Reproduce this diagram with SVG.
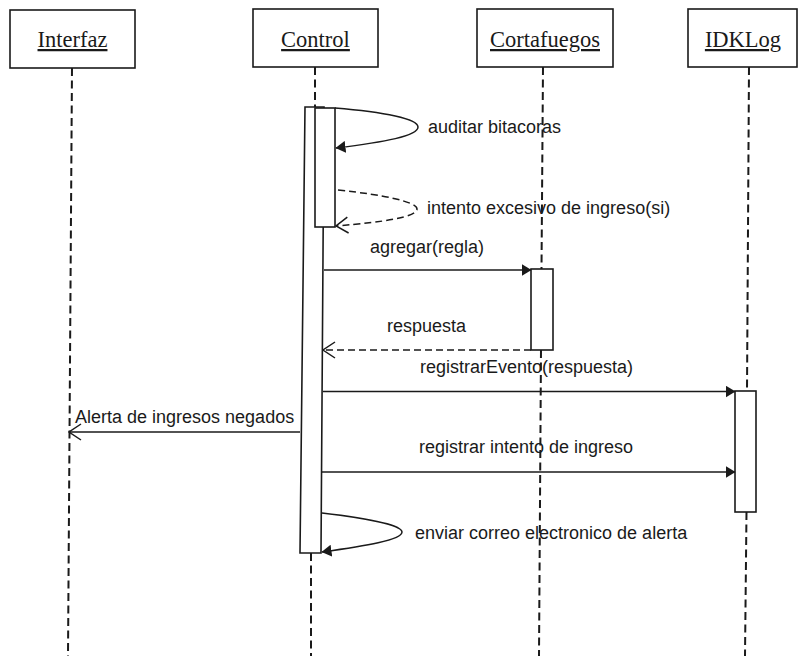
<svg xmlns="http://www.w3.org/2000/svg" width="799" height="656" viewBox="0 0 799 656">
  <style>
    .box { fill: #fff; stroke: #1a1a1a; stroke-width: 1.6; }
    .head { font-family: "Liberation Serif", "Times New Roman", serif; font-size: 22.5px; fill: #1a1a1a; text-anchor: middle; text-decoration: underline; }
    .life { fill: none; stroke: #1a1a1a; stroke-width: 2; stroke-dasharray: 8 4.5; }
    .act { fill: #fff; stroke: #1a1a1a; stroke-width: 1.6; }
    .msg { fill: none; stroke: #1a1a1a; stroke-width: 1.5; }
    .ret { fill: none; stroke: #1a1a1a; stroke-width: 1.5; stroke-dasharray: 7 4; }
    .lbl { font-family: "Liberation Sans", Arial, sans-serif; font-size: 18px; fill: #1a1a1a; }
  </style>
  <defs>
    <!-- filled head for call messages -->
    <marker id="solid" viewBox="0 0 10 12" refX="9.5" refY="6" markerWidth="10" markerHeight="12" markerUnits="userSpaceOnUse" orient="auto">
      <path d="M0,0 L10,6 L0,12 z" fill="#1a1a1a"/>
    </marker>
    <!-- open head for replies and signals -->
    <marker id="open" viewBox="0 0 14 18" refX="13" refY="9" markerWidth="14" markerHeight="18" markerUnits="userSpaceOnUse" orient="auto">
      <path d="M1,1 L13,9 L1,17" fill="none" stroke="#1a1a1a" stroke-width="1.5"/>
    </marker>
  </defs>
  <rect width="799" height="656" fill="#fff"/>

  <!-- lifelines -->
  <g id="lifelines">
    <line class="life" x1="72" y1="68" x2="68" y2="656"/>
    <line class="life" x1="315" y1="67" x2="315" y2="107"/>
    <line class="life" x1="311" y1="553" x2="311" y2="656"/>
    <line class="life" x1="543" y1="67" x2="541.5" y2="269"/>
    <line class="life" x1="541" y1="350" x2="539" y2="656"/>
    <line class="life" x1="749" y1="67" x2="747" y2="391"/>
    <line class="life" x1="746.5" y1="512" x2="745" y2="656"/>
  </g>

  <!-- participants -->
  <g id="interfaz">
    <rect class="box" x="10" y="10" width="125" height="58"/>
    <text class="head" x="72.5" y="47">Interfaz</text>
  </g>
  <g id="control">
    <rect class="box" x="253" y="9" width="125" height="58"/>
    <text class="head" x="315.5" y="47">Control</text>
    <polygon class="act" points="305,107 324,107 321,553 300,553"/>
    <rect class="act" x="315" y="108" width="20" height="119"/>
  </g>
  <g id="cortafuegos">
    <rect class="box" x="477" y="9" width="136" height="58"/>
    <text class="head" x="545" y="47">Cortafuegos</text>
    <rect class="act" x="531" y="269" width="22" height="81"/>
  </g>
  <g id="idklog">
    <rect class="box" x="688" y="9" width="109" height="58"/>
    <text class="head" x="743" y="47">IDKLog</text>
    <rect class="act" x="735" y="391" width="21" height="121"/>
  </g>

  <!-- messages -->
  <g id="connectors">
    <path class="msg" d="M335,108 C385,112 418,119 418,127 C418,136 385,142 336,148" marker-end="url(#solid)"/>
    <path class="ret" d="M338,190 C385,195 417,202 417,209 C417,217 385,222 336,226" marker-end="url(#open)"/>
    <line class="msg" x1="324" y1="270" x2="531" y2="270" marker-end="url(#solid)"/>
    <line class="ret" x1="531" y1="350" x2="323" y2="350" marker-end="url(#open)"/>
    <line class="msg" x1="323" y1="391.5" x2="735" y2="391.5" marker-end="url(#solid)"/>
    <line class="msg" x1="300" y1="432" x2="69" y2="432" marker-end="url(#open)"/>
    <line class="msg" x1="322" y1="472" x2="735" y2="472" marker-end="url(#solid)"/>
    <path class="msg" d="M322,513 C365,518 402,525 402,532 C402,540 365,546 322,552" marker-end="url(#solid)"/>
  </g>

  <!-- message labels -->
  <g id="labels">
    <text class="lbl" x="428" y="133">auditar bitacoras</text>
    <text class="lbl" x="427" y="214">intento excesivo de ingreso(si)</text>
    <text class="lbl" x="370" y="253">agregar(regla)</text>
    <text class="lbl" x="387" y="332">respuesta</text>
    <text class="lbl" x="420" y="373">registrarEvento(respuesta)</text>
    <text class="lbl" x="75" y="423">Alerta de ingresos negados</text>
    <text class="lbl" x="419" y="453">registrar intento de ingreso</text>
    <text class="lbl" x="415" y="539">enviar correo electronico de alerta</text>
  </g>
</svg>
